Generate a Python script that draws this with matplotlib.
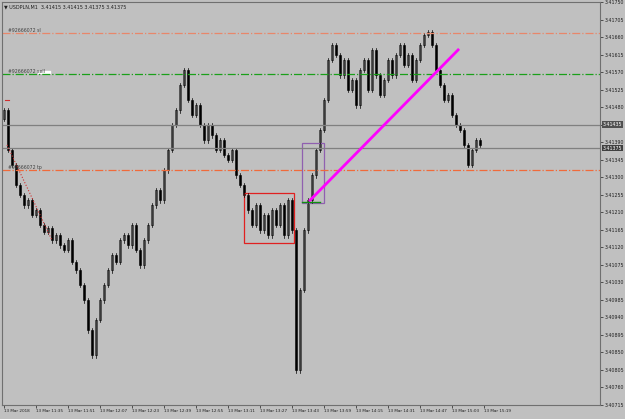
import numpy as np
import matplotlib.pyplot as plt
from matplotlib.patches import Rectangle

# USDPLN M1 - cierres aproximados
closes = [
    3.41472, 3.41370, 3.41331, 3.41280, 3.41254, 3.41228, 3.41241, 3.41203, 3.41215, 3.41177,
    3.41159, 3.41169, 3.41138, 3.41151, 3.41125, 3.41113, 3.41138, 3.41082, 3.41061, 3.41023,
    3.40984, 3.40907, 3.40843, 3.40933, 3.40984, 3.41023, 3.41061, 3.41100, 3.41082, 3.41138,
    3.41151, 3.41125, 3.41177, 3.41113, 3.41074, 3.41138, 3.41177, 3.41228, 3.41267, 3.41241,
    3.41318, 3.41370, 3.41434, 3.41472, 3.41537, 3.41575, 3.41498, 3.41460, 3.41485, 3.41434,
    3.41395, 3.41434, 3.41408, 3.41370, 3.41395, 3.41357, 3.41344, 3.41370, 3.41305, 3.41280,
    3.41254, 3.41215, 3.41177, 3.41228, 3.41164, 3.41203, 3.41151, 3.41215, 3.41177, 3.41228,
    3.41151, 3.41241, 3.41164, 3.40804, 3.41010, 3.41164, 3.41241, 3.41305, 3.41370, 3.41421,
    3.41498, 3.41601, 3.41640, 3.41614, 3.41562, 3.41601, 3.41524, 3.41550, 3.41485, 3.41575,
    3.41601, 3.41524, 3.41627, 3.41562, 3.41511, 3.41550, 3.41601, 3.41562, 3.41614, 3.41640,
    3.41588, 3.41614, 3.41550, 3.41601, 3.41640, 3.41665, 3.41673, 3.41640, 3.41575, 3.41537,
    3.41498, 3.41511, 3.41460, 3.41434, 3.41421, 3.41383, 3.41331, 3.41370, 3.41395, 3.41383,
]
first_open = 3.41450
wick = 0.00006

price_ticks = [3.41750 - 0.00045 * k for k in range(24)]
time_labels = ["13 Mar 2018", "13 Mar 11:35", "13 Mar 11:51", "13 Mar 12:07", "13 Mar 12:23",
               "13 Mar 12:39", "13 Mar 12:55", "13 Mar 13:11", "13 Mar 13:27", "13 Mar 13:43",
               "13 Mar 13:59", "13 Mar 14:15", "13 Mar 14:31", "13 Mar 14:47", "13 Mar 15:03",
               "13 Mar 15:19"]

# lineas de la orden
sl_level = 3.41670
sell_level = 3.41565
tp_level = 3.41318
gray_levels = [3.41435, 3.41375]

bg = "#c0c0c0"
fig = plt.figure(figsize=(6.25, 4.19), dpi=100, facecolor=bg)
ax = fig.add_axes([0.0032, 0.0334, 0.957, 0.9618], facecolor=bg)

opens = [first_open] + closes[:-1]
for i, (o, c) in enumerate(zip(opens, closes)):
    hi, lo = max(o, c) + wick, min(o, c) - wick
    ax.plot([i, i], [lo, hi], color="black", lw=0.5)
    body = max(abs(c - o), 0.000015)
    ax.add_patch(Rectangle((i - 0.2, min(o, c)), 0.4, body,
                           facecolor="black" if c < o else bg, edgecolor="black", lw=0.4))

ax.axhline(sl_level, color="#e8876a", lw=0.9, ls="-.")
ax.axhline(sell_level, color="#1aa01a", lw=0.9, ls="-.")
ax.axhline(tp_level, color="#f06a3a", lw=0.9, ls="-.")
for g in gray_levels:
    ax.axhline(g, color="#808080", lw=0.9)
ax.text(1, sl_level + 0.00003, "#92666072 sl", fontsize=3.3, color="#404040")
ax.text(1, sell_level + 0.00003, "#92666072 sell", fontsize=3.3, color="#404040")
ax.add_patch(Rectangle((8.5, sell_level + 0.00002), 3, 0.00007, color="white"))
ax.text(1, tp_level + 0.00003, "#92666072 tp", fontsize=3.3, color="#404040")

ax.plot([0.75, 12], [3.41383, 3.41138], color="#d03030", lw=0.8, ls=":")
ax.plot([0.2, 1.2], [3.41498, 3.41498], color="#d03030", lw=0.8)
ax.add_patch(Rectangle((60, 3.41131), 12.5, 0.00128, fill=False, edgecolor="#e02020", lw=0.9))
ax.add_patch(Rectangle((74.5, 3.41233), 5.5, 0.00155, fill=False, edgecolor="#9060b0", lw=0.9))
ax.plot([74.5, 79], [3.41236, 3.41236], color="#109010", lw=1.0)
ax.plot([76.5, 113.5], [3.41241, 3.41627], color="#ff00ff", lw=2)

ax.set_xlim(-0.5, 149)
ax.set_ylim(price_ticks[-1], price_ticks[0])
ax.yaxis.tick_right()
ax.set_yticks(price_ticks)
ax.set_yticklabels(["" if abs(p - gray_levels[0]) < 1e-6 else f"{p:.5f}" for p in price_ticks],
                   fontsize=3.4, color="#202020")
ax.set_xticks(range(0, 8 * len(time_labels), 8))
ax.set_xticklabels(time_labels, fontsize=3.0, ha="left", color="#202020")
ax.tick_params(length=2, width=0.5, pad=1, colors="#202020")
for s in ax.spines.values():
    s.set_color("#707070")

for g, fc in zip(gray_levels, ["#505050", "#404040"]):
    ax.text(1.004, g, f"{g:.5f}", transform=ax.get_yaxis_transform(), fontsize=3.4,
            color="white", va="center", bbox=dict(facecolor=fc, edgecolor="none", pad=0.5))

ax.text(0.003, 0.993, "\u25bc USDPLN,M1  3.41415 3.41415 3.41375 3.41375", transform=ax.transAxes,
        fontsize=3.5, va="top", color="#202020")

fig.savefig("out.png", dpi=100, facecolor=bg)
